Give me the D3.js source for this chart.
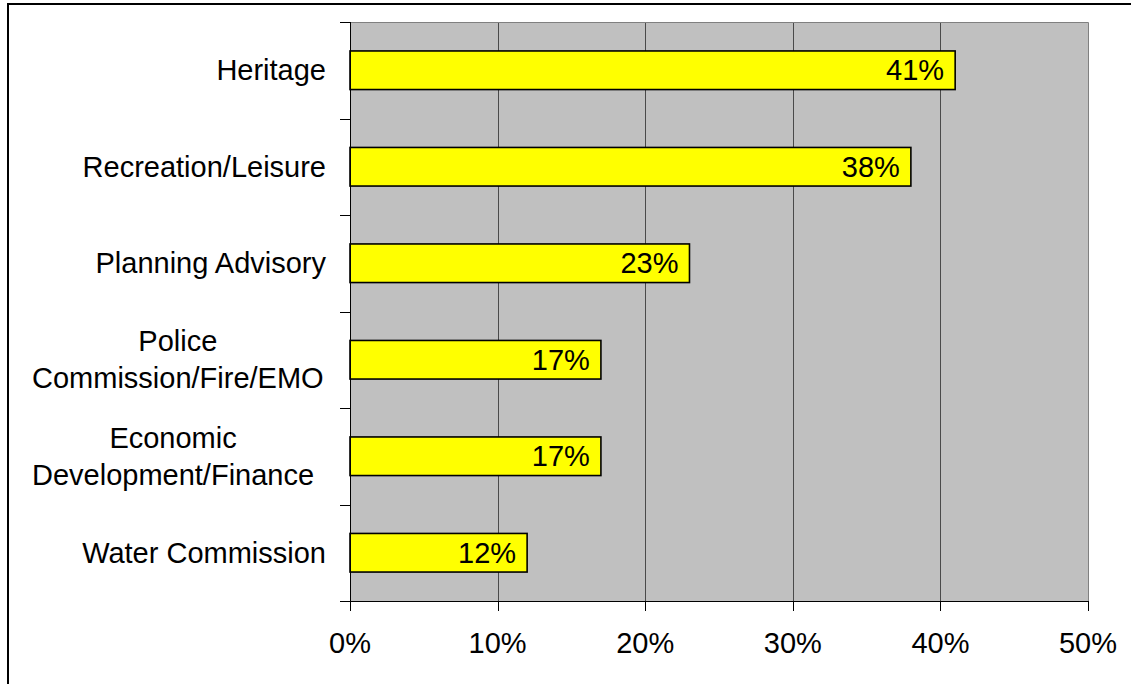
<!DOCTYPE html>
<html>
<head>
<meta charset="utf-8">
<script src="https://cdn.jsdelivr.net/npm/d3@7"></script>
<style>
  html, body { margin: 0; padding: 0; background: #fff; }
  svg { display: block; font-family: Arial, "Liberation Sans", sans-serif; }
</style>
</head>
<body>
<svg id="chart" width="1131" height="684"></svg>
<script>
// Committee categories (top to bottom) and their share of responses (%)
const categories = [
  "Heritage",
  "Recreation/Leisure",
  "Planning Advisory",
  "Police Commission/Fire/EMO",
  "Economic Development/Finance",
  "Water Commission"
];
const values = [41, 38, 23, 17, 17, 12];
const xTicks = [0, 10, 20, 30, 40, 50];

const W = 1131, H = 684;
const plot = { left: 350, right: 1088, top: 22, bottom: 601 };
const fontSize = 29;
const lineHeight = 37;

const svg = d3.select("#chart");

// outer frame (its right and bottom edges fall outside the view)
svg.append("rect")
  .attr("x", 8).attr("y", 4)
  .attr("width", W + 20).attr("height", H + 20)
  .attr("fill", "#fff").attr("stroke", "#000").attr("stroke-width", 2);

const x = d3.scaleLinear().domain([0, 50]).range([plot.left, plot.right]);
const y = d3.scaleBand().domain(categories).range([plot.top, plot.bottom])
  .paddingInner(0.6).paddingOuter(0.3);
const yStep = y.step();

// plot background
svg.append("rect")
  .attr("x", plot.left).attr("y", plot.top)
  .attr("width", plot.right - plot.left).attr("height", plot.bottom - plot.top)
  .attr("fill", "#c0c0c0");

// vertical gridlines
svg.append("g").selectAll("line")
  .data(xTicks.filter(t => t > 0 && t < 50))
  .join("line")
  .attr("x1", d => Math.round(x(d)) + 0.5).attr("x2", d => Math.round(x(d)) + 0.5)
  .attr("y1", plot.top).attr("y2", plot.bottom)
  .attr("stroke", "#4a4a4a").attr("stroke-width", 1);

// plot border: grey top/right
svg.append("path")
  .attr("d", `M${plot.left},${plot.top + 0.5}H${plot.right + 0.5}V${plot.bottom}`)
  .attr("fill", "none").attr("stroke", "#808080").attr("stroke-width", 1);

// bars
svg.append("g").selectAll("rect")
  .data(categories)
  .join("rect")
  .attr("x", x(0))
  .attr("y", d => y(d))
  .attr("width", (d, i) => x(values[i]) - x(0))
  .attr("height", y.bandwidth())
  .attr("fill", "#ffff00")
  .attr("stroke", "#000").attr("stroke-width", 1.6);

// value labels inside bar ends
svg.append("g").selectAll("text")
  .data(categories)
  .join("text")
  .attr("x", (d, i) => x(values[i]) - 11)
  .attr("y", d => y(d) + y.bandwidth() / 2 + 10)
  .attr("text-anchor", "end")
  .attr("font-size", fontSize)
  .attr("fill", "#000")
  .text((d, i) => values[i] + "%");

// category axis (ticks at band boundaries)
const yAxisG = svg.append("g");
yAxisG.append("line")
  .attr("x1", plot.left + 0.5).attr("x2", plot.left + 0.5)
  .attr("y1", plot.top).attr("y2", plot.bottom)
  .attr("stroke", "#000");
yAxisG.selectAll("line.tick")
  .data(d3.range(categories.length + 1))
  .join("line").attr("class", "tick")
  .attr("x1", plot.left - 10).attr("x2", plot.left)
  .attr("y1", i => Math.round(plot.top + i * yStep) + 0.5)
  .attr("y2", i => Math.round(plot.top + i * yStep) + 0.5)
  .attr("stroke", "#000");

// category labels: single lines right-aligned to the axis,
// wrapped labels set as a centred block starting at the left margin
const labelRight = 326;
const labelLeft = 32;
const maxLabelWidth = 300;
const measure = svg.append("text").attr("font-size", fontSize).attr("visibility", "hidden");
function textWidth(s) { measure.text(s); return measure.node().getComputedTextLength(); }
function wrap(s) {
  const words = s.split(" ");
  const lines = [];
  let cur = "";
  words.forEach(w => {
    const tryLine = cur ? cur + " " + w : w;
    if (cur && textWidth(tryLine) > maxLabelWidth) { lines.push(cur); cur = w; }
    else cur = tryLine;
  });
  if (cur) lines.push(cur);
  return lines;
}
categories.forEach(c => {
  const lines = wrap(c);
  const blockW = d3.max(lines, textWidth);
  const cx = lines.length > 1 ? labelLeft + blockW / 2 : labelRight - blockW / 2;
  const cy = y(c) + y.bandwidth() / 2;
  const first = cy + 10 - (lines.length - 1) * lineHeight / 2;
  svg.append("text")
    .attr("font-size", fontSize).attr("fill", "#000").attr("text-anchor", "middle")
    .selectAll("tspan").data(lines).join("tspan")
    .attr("x", cx).attr("y", (d, i) => first + i * lineHeight)
    .text(d => d);
});
measure.remove();

// value axis
const xAxisG = svg.append("g");
xAxisG.append("line")
  .attr("x1", plot.left).attr("x2", plot.right + 1)
  .attr("y1", plot.bottom + 0.5).attr("y2", plot.bottom + 0.5)
  .attr("stroke", "#000");
xAxisG.selectAll("line.tick")
  .data(xTicks)
  .join("line").attr("class", "tick")
  .attr("x1", d => Math.round(x(d)) + 0.5).attr("x2", d => Math.round(x(d)) + 0.5)
  .attr("y1", plot.bottom).attr("y2", plot.bottom + 10)
  .attr("stroke", "#000");
xAxisG.selectAll("text")
  .data(xTicks)
  .join("text")
  .attr("x", d => x(d))
  .attr("y", 653)
  .attr("text-anchor", "middle")
  .attr("font-size", fontSize)
  .attr("fill", "#000")
  .text(d => d + "%");
</script>
</body>
</html>
